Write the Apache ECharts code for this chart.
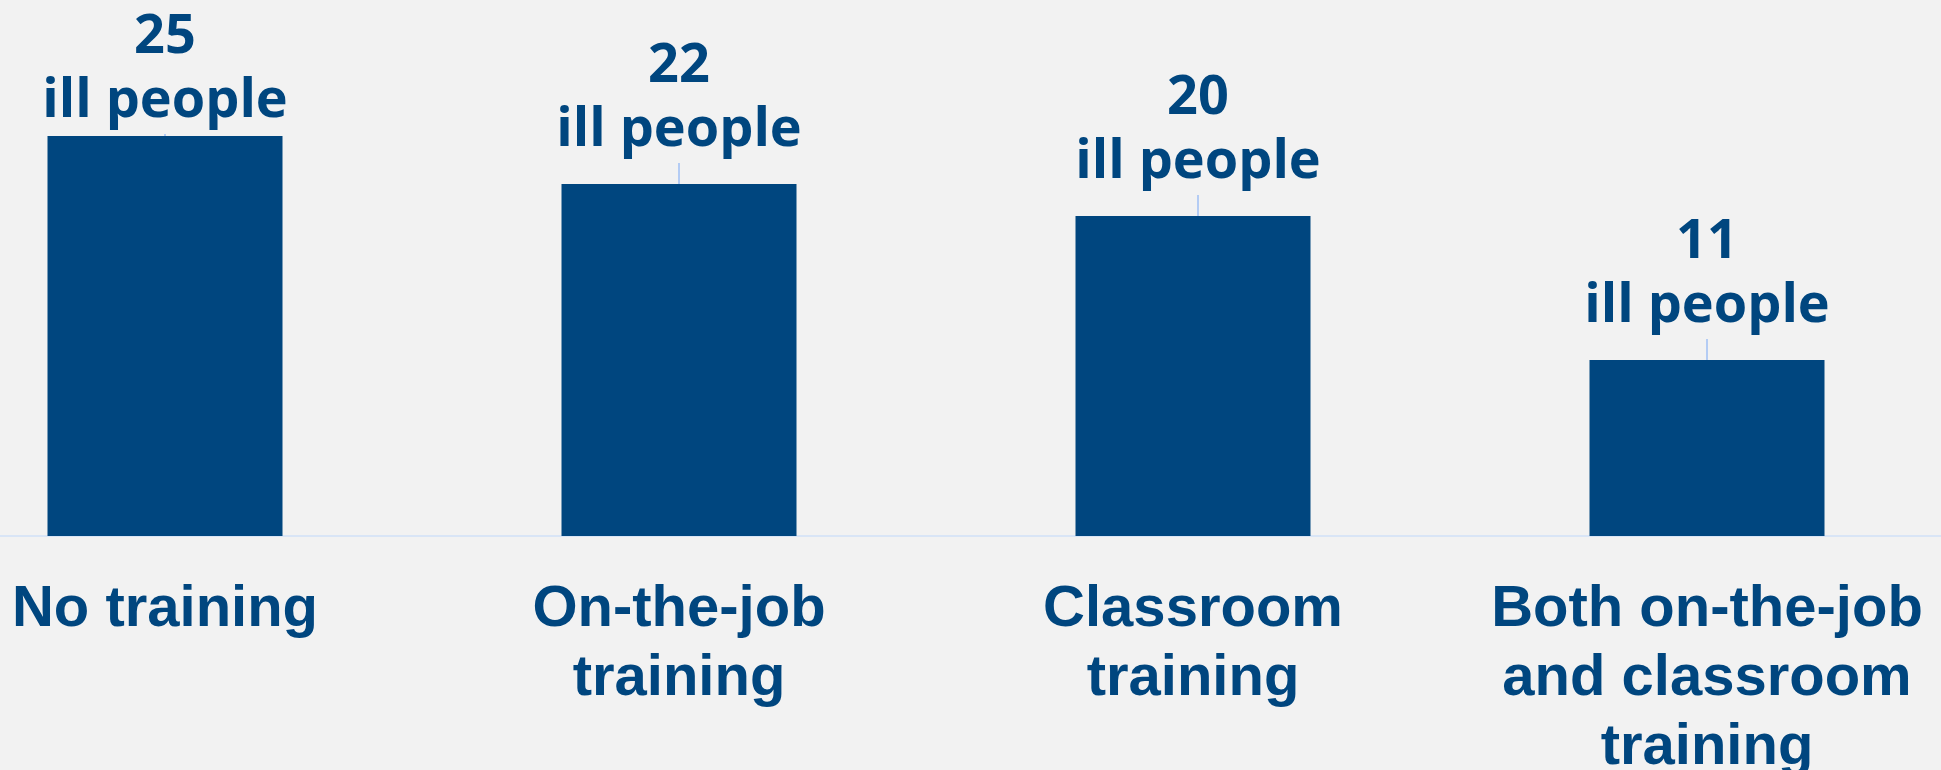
<!DOCTYPE html>
<html>
<head>
<meta charset="utf-8">
<script src="https://cdn.jsdelivr.net/npm/echarts@6/dist/echarts.min.js"></script>
<style>
  html, body { margin: 0; padding: 0; background: #f2f2f2; overflow: hidden; }
  /* the plot runs past both edges of the picture, so the canvas is wider and shifted left */
  #chart { width: 2056px; height: 770px; margin-left: -92px; }
</style>
</head>
<body>
<div id="chart"></div>
<script>
var categories = ['No training', 'On-the-job\ntraining', 'Classroom\ntraining', 'Both on-the-job\nand classroom\ntraining'];
var illPeople = [25, 22, 20, 11];
var valueSuffix = 'ill people';

var myChart = echarts.init(document.getElementById('chart'));
var option = {
    backgroundColor: '#f2f2f2',
    animation: false,
    grid: { left: 0, right: 0, top: 136, bottom: 234, outerBoundsMode: 'none' },
    xAxis: {
        type: 'category',
        data: categories,
        axisTick: { show: false },
        axisLine: { lineStyle: { color: '#d9e5f6', width: 2 } },
        axisLabel: {
            interval: 0,
            color: '#00467f',
            fontFamily: 'Liberation Sans',
            fontWeight: 'bold',
            fontSize: 58,
            lineHeight: 69,
            margin: 39
        }
    },
    yAxis: {
        type: 'value',
        min: 0,
        max: 25,
        show: false,
        splitLine: { show: false }
    },
    series: [{
        type: 'bar',
        data: illPeople,
        barWidth: 235,
        itemStyle: { color: '#00467f' },
        label: {
            show: true,
            position: 'top',
            distance: 2,
            formatter: function (p) { return p.value + '\n' + valueSuffix; },
            color: '#00467f',
            fontFamily: 'Open Sans',
            fontWeight: 'bold',
            fontSize: 54,
            lineHeight: 64
        },
        labelLine: {
            show: true,
            lineStyle: { color: '#9fbff5', width: 1.5 }
        },
        labelLayout: function (p) {
            if (p.dataIndex === 0) return {};
            return { dy: -19, dx: p.dataIndex === 2 ? 5 : 0 };
        }
    }]
};
myChart.setOption(option);
</script>
</body>
</html>
